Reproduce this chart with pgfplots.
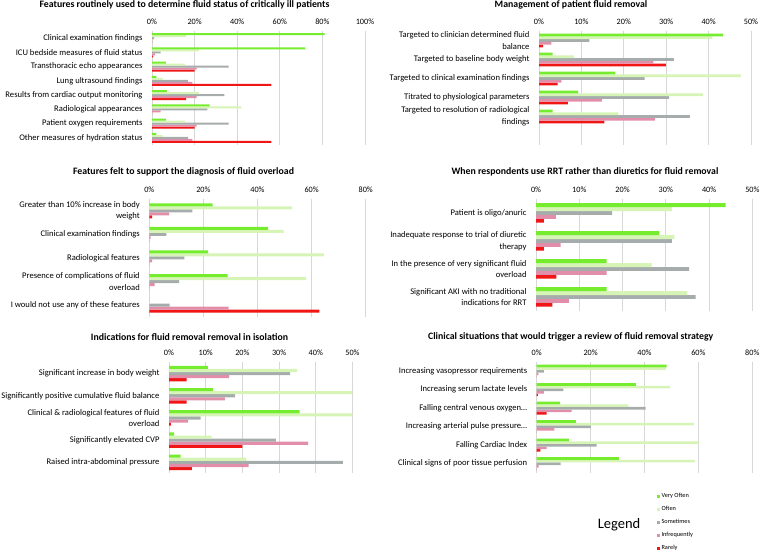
\documentclass[border=0pt]{standalone}
\usepackage{pgfplots}
\pgfplotsset{compat=1.18}
\usepackage{pgfplotstable}
\usepackage{fontspec}
\setmainfont{Carlito}
\definecolor{cVO}{RGB}{118,236,46}
\definecolor{cOF}{RGB}{214,244,182}
\definecolor{cSO}{RGB}{166,172,172}
\definecolor{cIN}{RGB}{226,142,170}
\definecolor{cRA}{RGB}{240,22,22}
\definecolor{gridc}{RGB}{215,215,215}

\pgfplotstableread{
idx VO OF SO IN RA
0 81 16 1 0 0
1 72 22 4 1.5 0.5
2 6.5 15.5 36 21 20
3 2 5 17 19 56
4 7 22 34 21 16
5 27 42 26 4 0
6 6.5 15.5 36 21 20
7 2 5 17 19 56
}\tA
\pgfplotstableread{
idx VO OF SO IN RA
0 43.4 40.9 11.9 2.9 1
1 3.2 8.2 31.8 27 29.9
2 18 47.6 24.9 5.3 4.4
3 9.2 38.7 30.7 14.8 6.8
4 3.2 18.7 35.6 27.3 15.4
}\tB
\pgfplotstableread{
idx VO OF SO IN RA
0 23.4 52.8 15.9 7.3 1
1 43.9 49.7 6.3 0.5 0
2 21.7 64.5 13 1 0
3 29 58 11 2 0
4 0 0.3 7.5 29.3 62.9
}\tC
\pgfplotstableread{
idx VO OF SO IN RA
0 43.8 31.4 17.6 4.6 1.8
1 28.5 32 31.4 5.7 1.8
2 16.3 26.7 35.4 16.3 4.7
3 16.3 35 36.9 7.6 3.8
}\tD
\pgfplotstableread{
idx VO OF SO IN RA
0 10.6 34.9 33 16.4 4.8
1 12 50 18 15.2 4.8
2 35.6 50 8.6 5.2 0.5
3 1.4 11.6 29.1 37.9 20
4 3.2 21.1 47.4 21.7 6.2
}\tE
\pgfplotstableread{
idx VO OF SO IN RA
0 48.2 48 2.7 0.6 0
1 36.8 49.4 9.9 2.7 0.4
2 8.7 34 40.4 13 3.7
3 14.5 58.3 20.1 6.6 0
4 11.9 60.3 22.2 3.7 1.4
5 30.5 58.8 8.9 0.7 0
}\tF

\newcommand\bars[1]{%
  \addplot[fill=cRA,draw=none] table[x=RA,y=idx]{#1};
  \addplot[fill=cIN,draw=none] table[x=IN,y=idx]{#1};
  \addplot[fill=cSO,draw=none] table[x=SO,y=idx]{#1};
  \addplot[fill=cOF,draw=none] table[x=OF,y=idx]{#1};
  \addplot[fill=cVO,draw=none] table[x=VO,y=idx]{#1};
}

\pgfplotsset{
  panel/.style={
    scale only axis, xbar=0pt, y dir=reverse, anchor=center,
    xmin=0, ymin=-0.5, enlarge y limits=false,
    axis line style={draw=none}, major tick length=0pt, tick style={draw=none},
    xmajorgrids, grid style={draw=gridc, line width=0.7pt},
    xticklabel pos=upper,
    xticklabel={\pgfmathparse{int(round(\tick))}\pgfmathresult\%},
    xticklabel style={font=\fontsize{8.2}{10}\selectfont, yshift=3pt},
    yticklabel style={font=\fontsize{8.6}{11.7}\selectfont, align=right, xshift=-6pt},
  },
}
\tikzset{ttl/.style={font=\fontsize{9.8}{11}\selectfont\bfseries, inner sep=0pt}}

\begin{document}
\begin{tikzpicture}[x=1pt,y=1pt]
\path[use as bounding box] (0,0) rectangle (760,553);

% Panel 1
\node[ttl] at (184.5,548) {Features routinely used to determine fluid status of critically ill patients};
\begin{axis}[panel, at={(258.5pt,465pt)}, width=213pt, height=114pt,
  xmax=100, xtick={0,20,...,100}, ymax=7.5, bar width=2pt,
  ytick={0,...,7},
  yticklabels={Clinical examination findings, ICU bedside measures of fluid status, Transthoracic echo appearances, Lung ultrasound findings, Results from cardiac output monitoring, Radiological appearances, Patient oxygen requirements, Other measures of hydration status}]
\bars{\tA}
\end{axis}

% Panel 2
\node[ttl] at (571,548) {Management of patient fluid removal};
\begin{axis}[panel, at={(645pt,465pt)}, width=212pt, height=114pt,
  xmax=50, xtick={0,10,...,50}, ymax=5.5, bar width=2.75pt,
  ytick={0,...,4},
  yticklabels={{Targeted to clinician determined fluid\\balance}, Targeted to baseline body weight, Targeted to clinical examination findings, Titrated to physiological parameters, {Targeted to resolution of radiological\\findings}}]
\bars{\tB}
\end{axis}

% Panel 3
\node[ttl] at (183.5,381.3) {Features felt to support the diagnosis of fluid overload};
\begin{axis}[panel, at={(257.5pt,295pt)}, width=216.4pt, height=118pt,
  xmax=80, xtick={0,20,...,80}, ymax=4.5, bar width=3pt,
  ytick={0,...,4},
  yticklabels={{Greater than 10\% increase in body\\weight}, Clinical examination findings, Radiological features, {Presence of complications of fluid\\overload}, I would not use any of these features}]
\bars{\tC}
\end{axis}

% Panel 4
\node[ttl] at (585,381.3) {When respondents use RRT rather than diuretics for fluid removal};
\begin{axis}[panel, at={(644.2pt,298pt)}, width=216.3pt, height=112pt,
  xmax=50, xtick={0,10,...,50}, ymax=3.5, bar width=3.9pt,
  ytick={0,...,3},
  yticklabels={Patient is oligo/anuric, {Inadequate response to trial of diuretic\\therapy}, {In the presence of very significant fluid\\overload}, {Significant AKI with no traditional\\indications for RRT}}]
\bars{\tD}
\end{axis}

% Panel 5
\node[ttl] at (189.5,216.3) {Indications for fluid removal removal in isolation};
\begin{axis}[panel, at={(260.75pt,135pt)}, width=183.5pt, height=111pt,
  xmax=50, xtick={0,10,...,50}, ymax=4.5, bar width=3.1pt,
  ytick={0,...,4},
  yticklabels={Significant increase in body weight, Significantly positive cumulative fluid balance, {Clinical \& radiological features of fluid\\overload}, Significantly elevated CVP, Raised intra-abdominal pressure}]
\bars{\tE}
\end{axis}

% Panel 6
\node[ttl] at (570.7,216.3) {Clinical situations that would trigger a review of fluid removal strategy};
\begin{axis}[panel, at={(644.5pt,135.5pt)}, width=215.6pt, height=111pt,
  xmax=80, xtick={0,20,...,80}, ymax=5.5, bar width=2.6pt,
  ytick={0,...,5},
  yticklabels={Increasing vasopressor requirements, Increasing serum lactate levels, {Falling central venous oxygen\ldots}, {Increasing arterial pulse pressure\ldots}, Falling Cardiac Index, Clinical signs of poor tissue perfusion},
  reverse legend,
  legend style={at={(0.555,-0.165)}, anchor=north west, draw=none, fill=none,
    font=\fontsize{6.3}{7}\selectfont, row sep=3.1pt, cells={anchor=west},
    inner sep=0pt},
  legend image code/.code={\path[#1] (0pt,-1.5pt) rectangle (3pt,1.5pt);}]
\bars{\tF}
\legend{Rarely, Infrequently, Sometimes, Often, Very Often}
\end{axis}

\node[font=\fontsize{14.5}{16}\selectfont, inner sep=0pt] at (619,28) {Legend};
\end{tikzpicture}
\end{document}
